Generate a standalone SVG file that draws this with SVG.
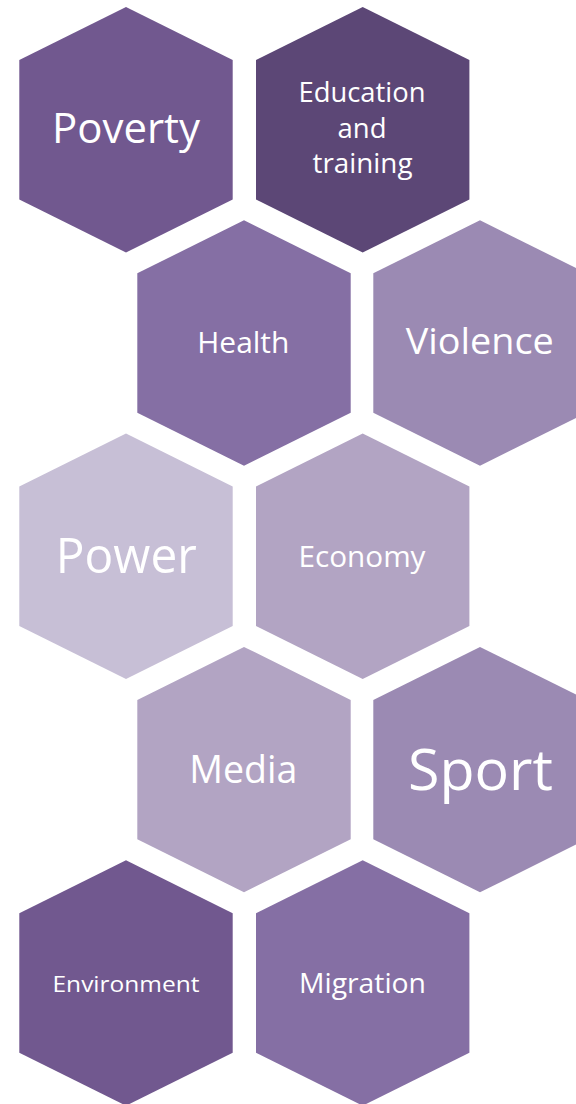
<svg xmlns="http://www.w3.org/2000/svg" width="576" height="1104" viewBox="0 0 576 1104">
  <defs>
    <!-- hexagon tile, centred on the origin -->
    <polygon id="hex" points="0,-122.7 106.7,-69.7 106.7,69.7 0,122.7 -106.7,69.7 -106.7,-69.7"/>
  </defs>
  <style>
    text { font-family: "Open Sans", "Noto Sans", "Liberation Sans", sans-serif; fill: #ffffff; text-anchor: middle; }
    .c1 { fill: #71588F; }
    .c2 { fill: #5C4776; }
    .c3 { fill: #856FA4; }
    .c4 { fill: #9B8AB3; }
    .c5 { fill: #C7BFD6; }
    .c6 { fill: #B2A4C3; }
  </style>
  <rect width="576" height="1104" fill="#ffffff"/>

  <g id="poverty">
    <use href="#hex" class="c1" x="126" y="129.7"/>
    <text x="126" y="143.3" font-size="42" textLength="148" lengthAdjust="spacingAndGlyphs">Poverty</text>
  </g>
  <g id="education">
    <use href="#hex" class="c2" x="362.7" y="129.7"/>
    <text x="362" y="101.7" font-size="26.5" textLength="127" lengthAdjust="spacingAndGlyphs">Education</text>
    <text x="362" y="138.3" font-size="26.5" textLength="49" lengthAdjust="spacingAndGlyphs">and</text>
    <text x="362.5" y="173.3" font-size="26.5" textLength="100" lengthAdjust="spacingAndGlyphs">training</text>
  </g>
  <g id="health">
    <use href="#hex" class="c3" x="244" y="343"/>
    <text x="243.3" y="353.3" font-size="29" textLength="92" lengthAdjust="spacingAndGlyphs">Health</text>
  </g>
  <g id="violence">
    <use href="#hex" class="c4" x="480" y="343"/>
    <text x="479.7" y="354.3" font-size="36.4" textLength="148" lengthAdjust="spacingAndGlyphs">Violence</text>
  </g>
  <g id="power">
    <use href="#hex" class="c5" x="126" y="556.3"/>
    <text x="126.3" y="572.7" font-size="50" textLength="141" lengthAdjust="spacingAndGlyphs">Power</text>
  </g>
  <g id="economy">
    <use href="#hex" class="c6" x="362.7" y="556.3"/>
    <text x="362" y="566.7" font-size="29" textLength="127" lengthAdjust="spacingAndGlyphs">Economy</text>
  </g>
  <g id="media">
    <use href="#hex" class="c6" x="244" y="769.6"/>
    <text x="243.3" y="782.7" font-size="37.4" textLength="108" lengthAdjust="spacingAndGlyphs">Media</text>
  </g>
  <g id="sport">
    <use href="#hex" class="c4" x="480" y="769.6"/>
    <text x="480.5" y="790" font-size="56" textLength="145" lengthAdjust="spacingAndGlyphs">Sport</text>
  </g>
  <g id="environment">
    <use href="#hex" class="c1" x="126" y="983"/>
    <text x="126" y="991.7" font-size="21.5" textLength="147" lengthAdjust="spacingAndGlyphs">Environment</text>
  </g>
  <g id="migration">
    <use href="#hex" class="c3" x="362.7" y="983"/>
    <text x="362.5" y="992.7" font-size="28" textLength="127" lengthAdjust="spacingAndGlyphs">Migration</text>
  </g>

  <!-- the tiles are not linked: connector group left empty -->
  <g id="connectors"/>
</svg>
